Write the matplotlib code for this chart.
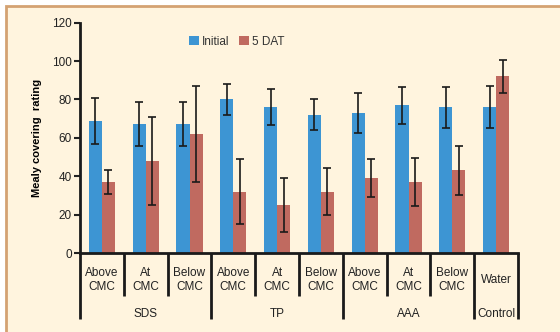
import numpy as np
import matplotlib.pyplot as plt
from matplotlib.patches import Rectangle

# data
categories = ['Above\nCMC', 'At\nCMC', 'Below\nCMC',
              'Above\nCMC', 'At\nCMC', 'Below\nCMC',
              'Above\nCMC', 'At\nCMC', 'Below\nCMC', 'Water']
groups = ['SDS', 'TP', 'AAA', 'Control']
group_sizes = [3, 3, 3, 1]

initial = [69, 67, 67, 80, 76, 72, 73, 77, 76, 76]
initial_err = [12, 11.5, 11.5, 8, 9.5, 8, 10.6, 9.6, 10.7, 11]
dat5 = [37, 48, 62, 32, 25, 32, 39, 37, 43, 92]
dat5_err = [6.4, 23, 25, 17, 14, 12.4, 10, 12.5, 12.7, 8.6]

BLUE = '#3d95d3'
RED = '#c06a60'
CREAM = '#fff4de'
TAN = '#d4a272'

plt.rcParams['font.family'] = ['Liberation Sans', 'DejaVu Sans']

fig = plt.figure(figsize=(5.6, 3.32), dpi=100, facecolor='white')
fig.patches.append(Rectangle((6 / 560, -0.1), 1.2, 1.1 - 6 / 332,
                             transform=fig.transFigure, facecolor=CREAM,
                             edgecolor=TAN, linewidth=2, zorder=-10))
ax = fig.add_axes([80 / 560, 1 - 253 / 332, 438 / 560, 230.3 / 332])
ax.set_facecolor('none')

x = np.arange(len(categories))
w = 0.3
ax.bar(x - w / 2, initial, w, color=BLUE, label='Initial', zorder=2)
ax.bar(x + w / 2, dat5, w, color=RED, label='5 DAT', zorder=2)
ax.errorbar(x - w / 2, initial, yerr=initial_err, fmt='none', ecolor='#1a1a1a',
            elinewidth=1.2, capsize=3, capthick=1.2, zorder=3)
ax.errorbar(x + w / 2, dat5, yerr=dat5_err, fmt='none', ecolor='#1a1a1a',
            elinewidth=1.2, capsize=3, capthick=1.2, zorder=3)

ax.set_xlim(-0.5, len(categories) - 0.5)
ax.set_ylim(0, 120)
ax.set_yticks(range(0, 121, 20))
ax.set_xticks([])
ax.tick_params(axis='y', direction='out', length=4, width=1.5,
               labelsize=8.5, colors='#222222', pad=2)
for s in ['top', 'right']:
    ax.spines[s].set_visible(False)
for s in ['left', 'bottom']:
    ax.spines[s].set_linewidth(2)
    ax.spines[s].set_color('#1a1a1a')

ax.set_ylabel('Mealy covering  rating', fontsize=8, fontweight='bold')
ax.yaxis.set_label_coords(-0.087, 0.5)

# hierarchical x labels
tr = ax.get_xaxis_transform()
for i, lab in enumerate(categories):
    ax.text(i, -0.117, lab, transform=tr, ha='center', va='center',
            fontsize=8.5, color='#222222', linespacing=1.25)
bounds = np.cumsum([0] + group_sizes) - 0.5
for b in np.arange(-0.5, len(categories), 1.0):
    low = -0.287 if b in bounds else -0.187
    ax.plot([b, b], [0, low], transform=tr, color='#1a1a1a', lw=2,
            clip_on=False, solid_capstyle='butt')
for g, lo, hi in zip(groups, bounds[:-1], bounds[1:]):
    ax.text((lo + hi) / 2, -0.265, g, transform=tr, ha='center', va='center',
            fontsize=8.5, color='#222222')

ax.legend(loc='center left', bbox_to_anchor=(0.225, 0.918), ncol=2,
          frameon=False, fontsize=8.5, handlelength=0.8, handleheight=0.8,
          columnspacing=0.8, handletextpad=0.3, labelcolor='#333333')

fig.savefig('out.png', dpi=100, facecolor=fig.get_facecolor())
